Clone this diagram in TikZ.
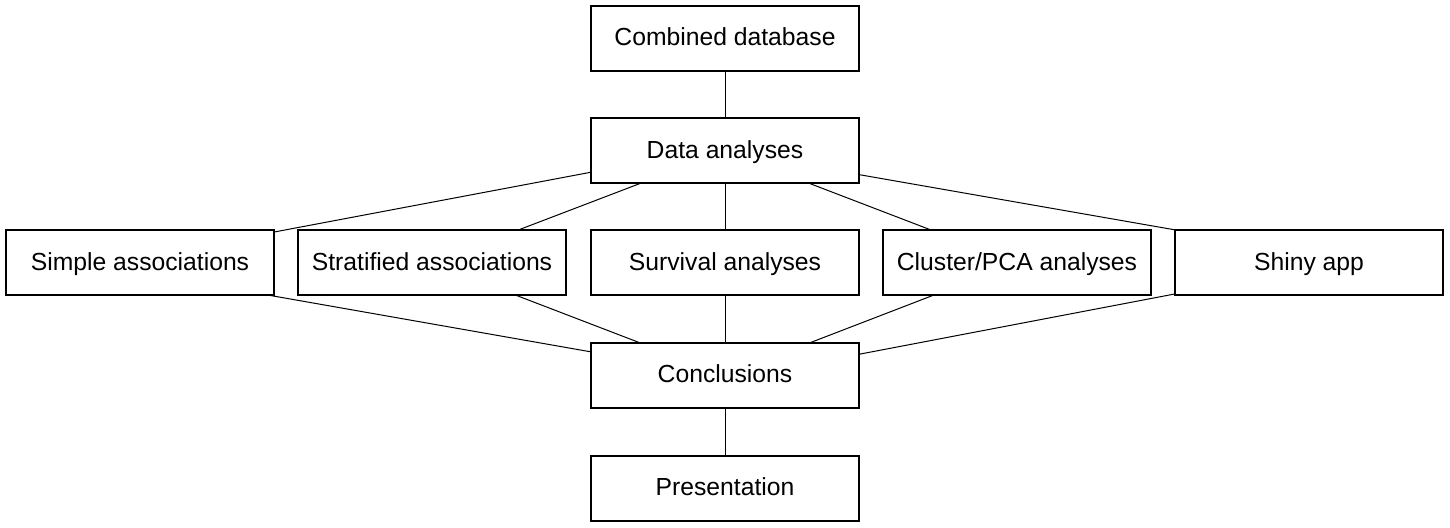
\documentclass[tikz,border=0pt]{standalone}
\usepackage{fontspec}
\setmainfont{Liberation Sans}
\begin{document}
\begin{tikzpicture}[x=0.5pt,y=-0.5pt,
  box/.style={draw, line width=1pt, minimum width=134pt, minimum height=32.5pt,
    inner sep=0pt, outer sep=0pt, text height=8.84pt, text depth=1.64pt,
    font=\fontsize{12.35}{14}\selectfont},
  link/.style={line width=0.5pt}]
\useasboundingbox (0,0) rectangle (1450,528);
\node[box] (cd) at (725,38.5) {Combined database};
\node[box] (da) at (725,151) {Data analyses};
\node[box] (simple) at (140,263) {Simple associations};
\node[box] (strat) at (432,263) {Stratified associations};
\node[box] (surv) at (725,263) {Survival analyses};
\node[box] (clus) at (1017,263) {Cluster/PCA analyses};
\node[box] (shiny) at (1309,263) {Shiny app};
\node[box] (conc) at (725,375.5) {Conclusions};
\node[box] (pres) at (725,488.5) {Presentation};
\draw[link] (cd) -- (da);
\draw[link] (da.189.7) -- (simple.13.3);
\draw[link] (da) -- (strat);
\draw[link] (da) -- (surv);
\draw[link] (da) -- (clus);
\draw[link] (da.350.3) -- (shiny.166.7);
\draw[link] (simple.346.3) -- (conc.170.5);
\draw[link] (strat) -- (conc);
\draw[link] (surv) -- (conc);
\draw[link] (clus) -- (conc);
\draw[link] (shiny.193.7) -- (conc.9.5);
\draw[link] (conc) -- (pres);
\end{tikzpicture}
\end{document}
